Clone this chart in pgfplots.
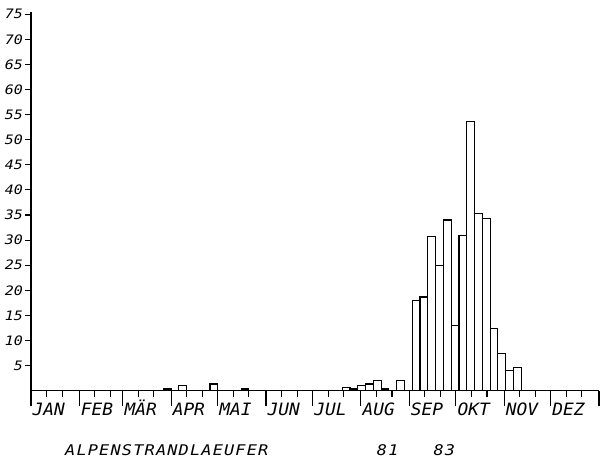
\documentclass[border=0pt]{standalone}
\usepackage{fontspec}
\usepackage{pgfplots}
\pgfplotsset{compat=1.18}
% Plotter-like lettering: slanted monospaced sans
\newfontfamily\monthfont{DejaVu Sans Mono}[FakeStretch=1.05]
\newfontfamily\tickfont{DejaVu Sans Mono}[FakeStretch=1.15]
\newfontfamily\titlefont{DejaVu Sans Mono}[FakeStretch=1.15, LetterSpace=8]

\begin{document}
\begin{tikzpicture}
\begin{axis}[
  at={(0,0)}, anchor=south west,
  scale only axis,
  width=568pt, height=379pt,
  xmin=0, xmax=365,
  ymin=0, ymax=75.5,
  axis x line*=bottom,
  axis y line*=left,
  axis line style={-, line width=1.4pt},
  tick align=outside,
  every tick/.style={black, line width=1.1pt},
  major tick length=6pt,
  % dekad ticks (10th and 20th day of each month)
  xtick={10,20,41,51,69,79,100,110,130,140,161,171,191,201,222,232,253,263,283,293,314,324,344,354},
  xticklabels={},
  % month boundaries (days of the year)
  extra x ticks={0,31,59,90,120,151,181,212,243,273,304,334,365},
  extra x tick labels={},
  extra x tick style={major tick length=15pt},
  ytick={5,10,...,75},
  /pgf/number format/assume math mode=true,
  yticklabel style={font=\tickfont\itshape\fontsize{13}{13}\selectfont, inner sep=0pt, xshift=-2pt},
  clip=false,
]
% pentad means (5-day periods), bars centred on each pentad
\addplot[ybar, bar width=5, bar shift=0, fill=white, draw=black, line width=1.1pt]
  coordinates {
    (87.5,0.33) (97.5,1.0) (117.5,1.33) (137.5,0.33)
    (202.5,0.67) (207.5,0.33) (212.5,1.0) (217.5,1.33) (222.5,2.0) (227.5,0.33)
    (237.5,2.0)
    (247.5,18.0) (252.5,18.67) (257.5,30.67) (262.5,25.0) (267.5,34.0)
    (272.5,13.0) (277.5,31.0) (282.5,53.67) (287.5,35.33) (292.5,34.33)
    (297.5,12.33) (302.5,7.33) (307.5,4.0) (312.5,4.67)
  };
% month names, set just right of each month boundary
\foreach \d/\m in {0/JAN,31/FEB,59/MÄR,90/APR,120/MAI,151/JUN,181/JUL,212/AUG,243/SEP,273/OKT,304/NOV,334/DEZ}{
  \edef\tmp{\noexpand\node[anchor=base west, inner sep=0pt, xshift=1.5pt, yshift=-24.5pt,
    font=\noexpand\monthfont\noexpand\itshape\noexpand\fontsize{17}{17}\noexpand\selectfont]
    at (axis cs:\d,0) {\m};}
  \tmp
}
\end{axis}
\node[anchor=base west, inner sep=0pt, font=\titlefont\itshape\fontsize{14.7}{14.7}\selectfont]
  at (34pt,-64.3pt) {ALPENSTRANDLAEUFER};
\node[anchor=base west, inner sep=0pt, font=\titlefont\itshape\fontsize{14.7}{14.7}\selectfont]
  at (345.7pt,-64.3pt) {81};
\node[anchor=base west, inner sep=0pt, font=\titlefont\itshape\fontsize{14.7}{14.7}\selectfont]
  at (402.3pt,-64.3pt) {83};
\pgfresetboundingbox
\path[use as bounding box] (-31pt,-70.3pt) rectangle (570pt,390.7pt);
\end{tikzpicture}
\end{document}
